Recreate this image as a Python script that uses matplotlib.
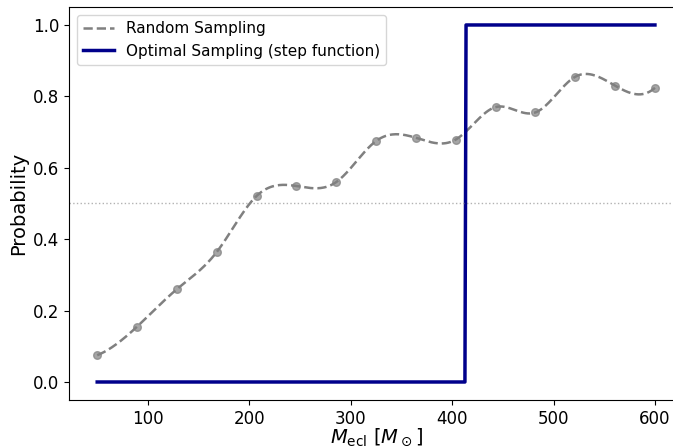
import numpy as np
import matplotlib
matplotlib.use("Agg")
import matplotlib.pyplot as plt

# cluster masses and measured probabilities (random sampling)
m_ecl = np.linspace(50, 600, 15)
p_random = [0.075, 0.155, 0.26, 0.364, 0.521, 0.549, 0.56, 0.675,
            0.684, 0.679, 0.77, 0.755, 0.855, 0.83, 0.824]
m_threshold = 413  # optimal sampling switches from 0 to 1 here


def spline(x, y, xs):
    # cubic spline with not-a-knot ends, just for the smooth curve
    x = np.asarray(x, float)
    y = np.asarray(y, float)
    n = len(x)
    h = np.diff(x)
    A = np.zeros((n, n))
    b = np.zeros(n)
    A[0, :3] = [h[1], -(h[0] + h[1]), h[0]]
    A[-1, -3:] = [h[-1], -(h[-2] + h[-1]), h[-2]]
    for i in range(1, n - 1):
        A[i, i - 1] = h[i - 1]
        A[i, i] = 2 * (h[i - 1] + h[i])
        A[i, i + 1] = h[i]
        b[i] = 3 * ((y[i + 1] - y[i]) / h[i] - (y[i] - y[i - 1]) / h[i - 1])
    c = np.linalg.solve(A, b)
    idx = np.clip(np.searchsorted(x, xs) - 1, 0, n - 2)
    dx = xs - x[idx]
    bb = (y[idx + 1] - y[idx]) / h[idx] - h[idx] * (2 * c[idx] + c[idx + 1]) / 3
    d = (c[idx + 1] - c[idx]) / (3 * h[idx])
    return y[idx] + bb * dx + c[idx] * dx**2 + d * dx**3


xs = np.linspace(m_ecl[0], m_ecl[-1], 500)
ys = spline(m_ecl, p_random, xs)
p_optimal = np.where(xs >= m_threshold, 1.0, 0.0)

fig = plt.figure(figsize=(6.73, 4.48), dpi=100)
ax = fig.add_axes([0.103, 0.1075, 0.9116, 0.8766])

ax.plot(xs, ys, '--', color='gray', lw=1.8, label='Random Sampling')
ax.plot(m_ecl, p_random, 'o', color='gray', alpha=0.7, ms=5.5)
ax.plot(xs, p_optimal, '-', color='darkblue', lw=2.5,
        label='Optimal Sampling (step function)')
ax.axhline(0.5, color='gray', ls=':', lw=1, alpha=0.6)

ax.set_xlim(22.5, 627.5)
ax.set_ylim(-0.05, 1.05)
ax.set_xlabel(r'$M_{\rm ecl}$ [$M_\odot$]', fontsize=14, labelpad=-1)
ax.set_ylabel('Probability', fontsize=14)
ax.tick_params(labelsize=12)
ax.legend(loc='upper left', fontsize=11)

fig.savefig('out.png', dpi=100)
